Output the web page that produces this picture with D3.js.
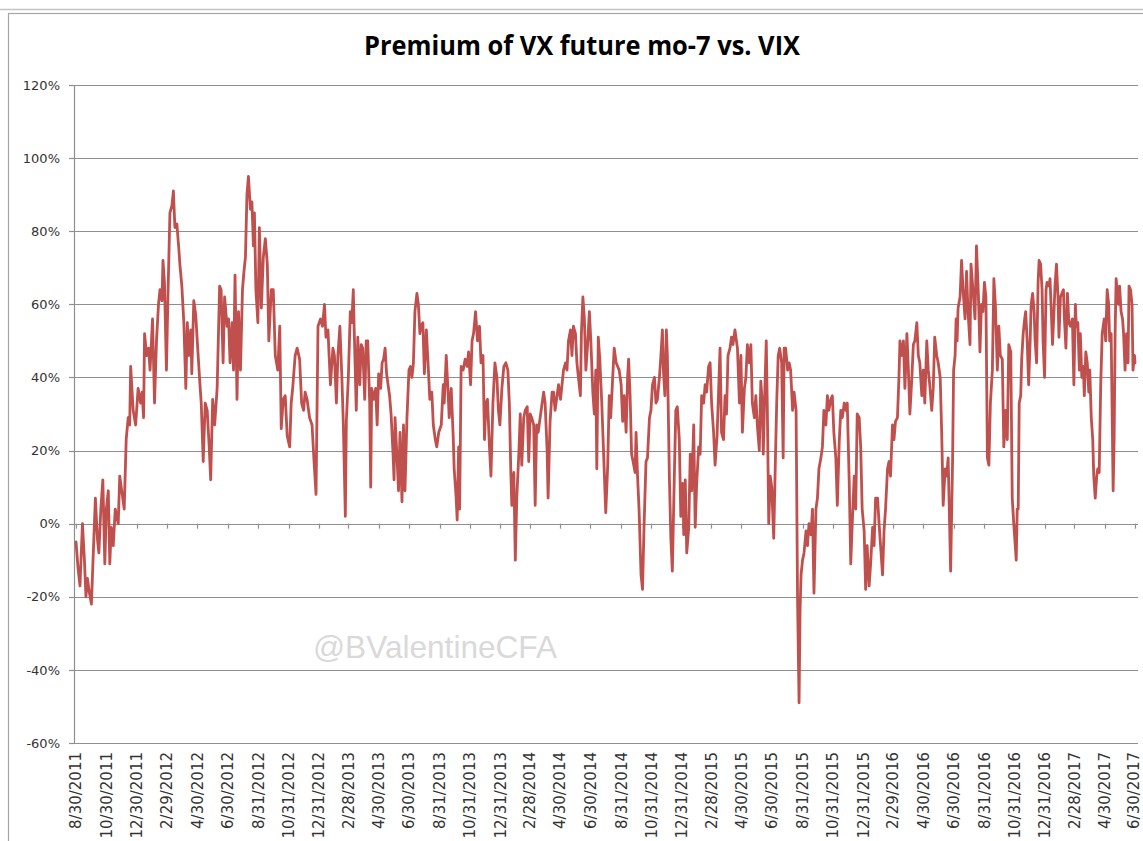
<!DOCTYPE html>
<html>
<head>
<meta charset="utf-8">
<script src="https://cdn.jsdelivr.net/npm/d3@7"></script>
<style>
  html, body { margin: 0; padding: 0; background: #ffffff; }
  svg { display: block; }
</style>
</head>
<body>
<svg id="chart" width="1143" height="841"></svg>
<script>
// ---------- DATA ----------
const chartTitle = "Premium of VX future mo-7 vs. VIX";
const watermark = "@BValentineCFA";

const yTicks = [-60, -40, -20, 0, 20, 40, 60, 80, 100, 120];

const xTickLabels = ["8/30/2011","10/30/2011","12/30/2011","2/29/2012","4/30/2012","6/30/2012",
  "8/31/2012","10/31/2012","12/31/2012","2/28/2013","4/30/2013","6/30/2013","8/31/2013",
  "10/31/2013","12/31/2013","2/28/2014","4/30/2014","6/30/2014","8/31/2014","10/31/2014",
  "12/31/2014","2/28/2015","4/30/2015","6/30/2015","8/31/2015","10/31/2015","12/31/2015",
  "2/29/2016","4/30/2016","6/30/2016","8/31/2016","10/31/2016","12/31/2016","2/28/2017",
  "4/30/2017","6/30/2017"];

// premium (%) observations per year: [month-day, value]
const obs2011 = [["08-30",-5],["09-03",-12],["09-07",-17],["09-12",0],["09-16",-10],["09-19",-20],
  ["09-22",-15],["09-26",-19],["09-30",-22],["10-03",-11],["10-08",7],["10-12",-4],["10-15",-8],
  ["10-19",4],["10-23",12],["10-27",-11],["10-30",4],["11-03",9],["11-06",-11],["11-09",-1],
  ["11-13",-6],["11-17",4],["11-23",0],["11-26",13],["12-01",8],["12-05",4],["12-09",23],
  ["12-13",29],["12-16",27],["12-18",43],["12-23",31],["12-28",27]];

const obs2012 = [["01-02",37],["01-07",33],["01-10",36],["01-13",29],["01-15",52],["01-19",46],
  ["01-23",48],["01-26",42],["01-31",56],["02-04",33],["02-08",50],["02-12",60],["02-15",64],
  ["02-19",61],["02-21",72],["02-24",66],["02-28",42],["03-02",62],["03-06",85],["03-10",87],
  ["03-13",91],["03-16",81],["03-20",82],["03-24",75],["03-26",71],["03-30",65],["04-03",55],
  ["04-07",37],["04-10",55],["04-13",46],["04-17",53],["04-19",41],["04-23",61],["04-27",57],
  ["04-30",50],["05-05",39],["05-08",33],["05-12",17],["05-16",33],["05-20",31],["05-24",21],
  ["05-27",12],["05-31",34],["06-04",27],["06-09",37],["06-14",65],["06-17",64],["06-21",44],
  ["06-24",62],["06-29",54],["07-02",56],["07-05",44],["07-09",55],["07-12",42],["07-15",68],
  ["07-19",34],["07-22",58],["07-26",42],["07-30",64],["08-02",69],["08-05",73],["08-08",90],
  ["08-11",95],["08-15",86],["08-18",88],["08-21",76],["08-23",85],["08-26",64],["08-30",55],
  ["09-02",81],["09-06",59],["09-10",73],["09-14",78],["09-18",71],["09-21",50],["09-26",64],
  ["09-30",64],["10-04",46],["10-09",42],["10-13",54],["10-16",26],["10-20",34],["10-24",35],
  ["10-28",24],["11-02",21],["11-05",33],["11-08",37],["11-13",46],["11-17",48],["11-22",45],
  ["11-26",33],["11-30",31],["12-03",36],["12-07",34],["12-12",29],["12-17",27],["12-21",17],
  ["12-25",8],["12-29",54]];

const obs2013 = [["01-03",56],["01-07",54],["01-11",60],["01-14",51],["01-18",53],["01-23",38],
  ["01-28",48],["01-31",46],["02-04",33],["02-07",46],["02-11",54],["02-15",40],["02-18",27],
  ["02-22",2],["02-24",28],["02-28",40],["03-04",58],["03-07",55],["03-10",64],["03-12",52],
  ["03-16",31],["03-19",51],["03-23",38],["03-26",49],["03-29",48],["04-02",34],["04-05",50],
  ["04-08",50],["04-12",33],["04-14",10],["04-16",37],["04-20",34],["04-24",37],["04-27",27],
  ["04-30",41],["05-04",37],["05-07",44],["05-10",45],["05-13",48],["05-16",41],["05-22",35],
  ["05-25",30],["05-29",19],["05-31",12],["06-02",29],["06-06",18],["06-09",9],["06-12",25],
  ["06-16",6],["06-19",27],["06-22",9],["06-26",29],["06-30",42],["07-03",43],["07-06",40],
  ["07-09",44],["07-12",58],["07-16",63],["07-19",60],["07-22",52],["07-24",54],["07-28",55],
  ["07-31",41],["08-04",53],["08-07",45],["08-11",34],["08-15",36],["08-18",27],["08-22",23],
  ["08-25",21],["08-29",25],["09-03",27],["09-07",38],["09-09",33],["09-13",46],["09-16",38],
  ["09-19",29],["09-23",37],["09-27",24],["09-29",15],["10-03",7],["10-05",1],["10-08",21],
  ["10-10",4],["10-13",43],["10-17",42],["10-21",45],["10-25",43],["10-28",47],["11-01",38],
  ["11-04",50],["11-07",52],["11-11",58],["11-15",50],["11-19",54],["11-22",44],["11-26",46],
  ["11-29",23],["12-02",33],["12-05",34],["12-09",21],["12-12",13],["12-16",33],["12-20",44],
  ["12-24",40],["12-27",31],["12-30",27]];

const obs2014 = [["01-03",37],["01-07",43],["01-11",44],["01-15",42],["01-18",33],["01-21",14],
  ["01-23",5],["01-27",14],["01-30",-10],["02-02",7],["02-06",19],["02-09",30],["02-12",16],
  ["02-16",29],["02-19",31],["02-23",32],["02-26",17],["03-01",30],["03-04",29],["03-08",27],
  ["03-11",5],["03-14",27],["03-17",25],["03-21",29],["03-24",32],["03-28",36],["03-31",33],
  ["04-04",20],["04-06",7],["04-10",28],["04-14",36],["04-17",36],["04-20",31],["04-24",35],
  ["04-27",38],["05-01",34],["05-04",38],["05-07",42],["05-11",44],["05-14",42],["05-17",50],
  ["05-21",53],["05-24",46],["05-27",54],["05-31",52],["06-03",44],["06-06",40],["06-10",35],
  ["06-12",52],["06-15",62],["06-18",56],["06-21",42],["06-25",50],["06-28",58],["07-01",50],
  ["07-05",36],["07-08",30],["07-11",42],["07-13",15],["07-16",51],["07-19",45],["07-23",33],
  ["07-27",18],["07-31",3],["08-04",16],["08-07",35],["08-10",29],["08-14",40],["08-17",48],
  ["08-21",44],["08-24",43],["08-27",42],["08-31",38],["09-03",28],["09-06",35],["09-10",25],
  ["09-13",40],["09-15",45],["09-18",35],["09-21",19],["09-24",17],["09-28",14],["09-30",25],
  ["10-03",13],["10-06",4],["10-10",-14],["10-13",-18],["10-16",-1],["10-20",17],["10-23",18],
  ["10-27",29],["10-30",31],["11-02",38],["11-06",40],["11-09",33],["11-12",34],["11-16",40],
  ["11-19",46],["11-22",53],["11-24",42],["11-27",35],["11-30",53],["12-02",46],["12-06",13],
  ["12-09",-4],["12-12",-13],["12-16",13],["12-19",31],["12-22",32],["12-26",23],["12-29",2]];

const obs2015 = [["01-02",11],["01-04",-3],["01-07",12],["01-10",-8],["01-14",-1],["01-17",19],
  ["01-20",9],["01-24",27],["01-27",-1],["01-30",11],["02-03",21],["02-06",19],["02-09",35],
  ["02-13",33],["02-16",38],["02-19",36],["02-23",43],["02-26",44],["03-01",33],["03-05",25],
  ["03-08",16],["03-12",24],["03-15",36],["03-18",48],["03-21",25],["03-25",23],["03-28",35],
  ["03-31",30],["04-03",46],["04-07",48],["04-10",51],["04-13",49],["04-17",53],["04-22",48],
  ["04-26",33],["04-29",46],["05-02",25],["05-06",37],["05-09",40],["05-12",49],["05-16",44],
  ["05-19",49],["05-22",33],["05-26",29],["05-29",35],["06-01",27],["06-05",20],["06-08",39],
  ["06-11",33],["06-13",19],["06-16",36],["06-19",50],["06-21",33],["06-24",0],["06-27",13],
  ["06-30",10],["07-04",-4],["07-07",15],["07-10",33],["07-13",46],["07-16",48],["07-20",44],
  ["07-23",18],["07-25",48],["07-28",48],["08-01",42],["08-04",44],["08-07",42],["08-11",31],
  ["08-14",36],["08-18",31],["08-21",-21],["08-24",-49],["08-26",-24],["08-28",-14],["08-31",-10],
  ["09-03",-8],["09-07",-2],["09-10",-6],["09-13",0],["09-17",-3],["09-20",4],["09-23",-19],
  ["09-27",4],["09-30",7],["10-03",15],["10-07",18],["10-10",21],["10-13",31],["10-17",27],
  ["10-20",35],["10-23",31],["10-27",34],["10-30",35],["11-02",25],["11-06",18],["11-09",5],
  ["11-13",23],["11-16",31],["11-19",29],["11-23",33],["11-26",31],["11-29",33],["12-03",11],
  ["12-06",-11],["12-09",0],["12-13",13],["12-16",4],["12-19",30],["12-23",29],["12-26",21],
  ["12-29",4]];

const obs2016 = [["01-02",-2],["01-05",-18],["01-08",-6],["01-12",-17],["01-15",-11],["01-19",-1],
  ["01-22",-6],["01-25",7],["01-29",7],["02-01",0],["02-04",-6],["02-08",-14],["02-11",-2],
  ["02-14",4],["02-18",15],["02-21",17],["02-24",13],["02-28",27],["03-02",23],["03-05",28],
  ["03-09",29],["03-12",40],["03-14",50],["03-17",46],["03-21",50],["03-24",37],["03-28",52],
  ["03-31",42],["04-03",30],["04-07",40],["04-10",49],["04-13",50],["04-17",55],["04-20",46],
  ["04-23",44],["04-27",35],["04-30",42],["05-03",33],["05-07",50],["05-10",42],["05-13",38],
  ["05-17",31],["05-20",37],["05-23",51],["05-27",46],["05-30",44],["06-03",40],["06-06",25],
  ["06-09",5],["06-13",15],["06-16",13],["06-19",18],["06-24",-13],["06-28",18],["06-30",42],
  ["07-03",46],["07-05",56],["07-07",50],["07-09",59],["07-13",62],["07-16",72],["07-19",64],
  ["07-23",56],["07-26",69],["07-29",58],["08-02",49],["08-04",71],["08-09",62],["08-12",56],
  ["08-15",76],["08-19",62],["08-22",47],["08-25",60],["08-28",58],["08-31",66],["09-03",62],
  ["09-06",18],["09-09",16],["09-12",33],["09-16",42],["09-19",67],["09-22",60],["09-26",42],
  ["09-29",54],["10-02",46],["10-06",45],["10-09",21],["10-13",31],["10-16",23],["10-19",49],
  ["10-23",47],["10-26",7],["10-29",0],["11-03",-10],["11-05",4],["11-07",4],["11-09",33],
  ["11-12",35],["11-14",45],["11-17",52],["11-20",56],["11-22",58],["11-25",50],["11-28",38],
  ["12-01",50],["12-03",60],["12-06",63],["12-09",58],["12-11",50],["12-14",44],["12-17",66],
  ["12-19",72],["12-22",71],["12-25",64],["12-27",50],["12-30",40]];

const obs2017 = [["01-02",64],["01-04",66],["01-08",65],["01-10",67],["01-12",60],["01-15",49],
  ["01-18",58],["01-20",65],["01-23",71],["01-26",62],["01-28",51],["01-31",62],["02-03",63],
  ["02-06",64],["02-08",56],["02-11",48],["02-14",63],["02-17",55],["02-20",54],["02-24",56],
  ["02-27",38],["03-02",60],["03-04",54],["03-07",55],["03-10",42],["03-12",52],["03-15",40],
  ["03-18",43],["03-20",35],["03-23",47],["03-26",44],["03-29",36],["03-31",42],["04-03",29],
  ["04-06",23],["04-08",13],["04-11",7],["04-14",13],["04-16",15],["04-19",14],["04-22",38],
  ["04-25",52],["04-29",56],["05-02",50],["05-05",64],["05-08",60],["05-10",50],["05-13",52],
  ["05-17",9],["05-19",23],["05-21",52],["05-23",67],["05-25",64],["05-28",60],["05-30",65],
  ["06-02",58],["06-05",56],["06-07",52],["06-10",42],["06-13",52],["06-16",44],["06-18",65],
  ["06-21",64],["06-24",60],["06-26",42],["06-29",46],["06-30",44]];

const yearlyObs = [[2011, obs2011], [2012, obs2012], [2013, obs2013], [2014, obs2014],
                   [2015, obs2015], [2016, obs2016], [2017, obs2017]];

// ---------- CHART ----------
const W = 1143, H = 841;
const plot = { left: 74, right: 1138, top: 85, bottom: 743 };
const parseISO = d3.timeParse("%Y-%m-%d");
const parseLabel = d3.timeParse("%m/%d/%Y");

const series = yearlyObs.flatMap(([yr, arr]) =>
  arr.map(([md, v]) => ({ date: parseISO(yr + "-" + md), value: v })));

const x = d3.scaleTime()
  .domain([parseLabel("8/30/2011"), parseLabel("6/30/2017")])
  .range([76, 1135]);
const y = d3.scaleLinear().domain([-60, 120]).range([plot.bottom, plot.top]);

const svg = d3.select("#chart");
svg.append("rect").attr("width", W).attr("height", H).attr("fill", "#ffffff");

// chart frame (cropped Excel chart area)
svg.append("line").attr("x1", 0).attr("x2", W).attr("y1", 9.5).attr("y2", 9.5)
  .attr("stroke", "#c4c4c4").attr("stroke-width", 1.5);
svg.append("rect").attr("x", 8.5).attr("y", 13.5).attr("width", 1300).attr("height", 1000)
  .attr("fill", "none").attr("stroke", "#a6a6a6").attr("stroke-width", 1.2);

// title
svg.append("text")
  .attr("x", 582).attr("y", 55)
  .attr("text-anchor", "middle")
  .attr("font-family", "'Open Sans', 'Liberation Sans', sans-serif")
  .attr("font-weight", "bold")
  .attr("font-size", 26)
  .attr("textLength", 436)
  .attr("lengthAdjust", "spacingAndGlyphs")
  .attr("fill", "#000")
  .text(chartTitle);

// horizontal gridlines
svg.append("g").selectAll("line").data(yTicks).join("line")
  .attr("x1", plot.left).attr("x2", plot.right)
  .attr("y1", d => Math.round(y(d)) + 0.5).attr("y2", d => Math.round(y(d)) + 0.5)
  .attr("stroke", "#8f8f8f").attr("stroke-width", 1.2);

// vertical axis line + tick marks
svg.append("line")
  .attr("x1", plot.left + 0.5).attr("x2", plot.left + 0.5)
  .attr("y1", plot.top).attr("y2", plot.bottom + 1)
  .attr("stroke", "#8f8f8f").attr("stroke-width", 1.2);
svg.append("g").selectAll("line").data(yTicks).join("line")
  .attr("x1", plot.left - 5).attr("x2", plot.left)
  .attr("y1", d => Math.round(y(d)) + 0.5).attr("y2", d => Math.round(y(d)) + 0.5)
  .attr("stroke", "#8f8f8f").attr("stroke-width", 1.2);

// y tick labels
svg.append("g").selectAll("text").data(yTicks).join("text")
  .attr("x", 60).attr("y", d => y(d))
  .attr("dy", "0.36em")
  .attr("text-anchor", "end")
  .attr("font-family", "'DejaVu Sans', sans-serif")
  .attr("font-size", 13)
  .attr("fill", "#333")
  .text(d => d + "%");

// x axis tick marks on the 0% line
const xTickDates = xTickLabels.map(parseLabel);
svg.append("g").selectAll("line").data(xTickDates).join("line")
  .attr("x1", d => Math.round(x(d)) + 0.5).attr("x2", d => Math.round(x(d)) + 0.5)
  .attr("y1", y(0)).attr("y2", y(0) + 5)
  .attr("stroke", "#8f8f8f").attr("stroke-width", 1.2);

// x tick labels (rotated, at the bottom)
svg.append("g").selectAll("text").data(xTickLabels).join("text")
  .attr("transform", d => `translate(${Math.min(x(parseLabel(d)), 1134)},752) rotate(-90)`)
  .attr("dy", "0.36em")
  .attr("text-anchor", "end")
  .attr("font-family", "'DejaVu Sans', sans-serif")
  .attr("font-size", 15)
  .attr("fill", "#333")
  .text(d => d);

// watermark
svg.append("text")
  .attr("x", 313).attr("y", 658)
  .attr("font-family", "'Liberation Sans', Arial, sans-serif")
  .attr("font-size", 32)
  .attr("textLength", 244)
  .attr("lengthAdjust", "spacingAndGlyphs")
  .attr("fill", "#d9d9d9")
  .text(watermark);

// data line
const line = d3.line().x(d => x(d.date)).y(d => y(d.value));
svg.append("path")
  .datum(series)
  .attr("d", line)
  .attr("fill", "none")
  .attr("stroke", "#C0504D")
  .attr("stroke-width", 2.8)
  .attr("stroke-linejoin", "round")
  .attr("stroke-linecap", "round");
</script>
</body>
</html>
